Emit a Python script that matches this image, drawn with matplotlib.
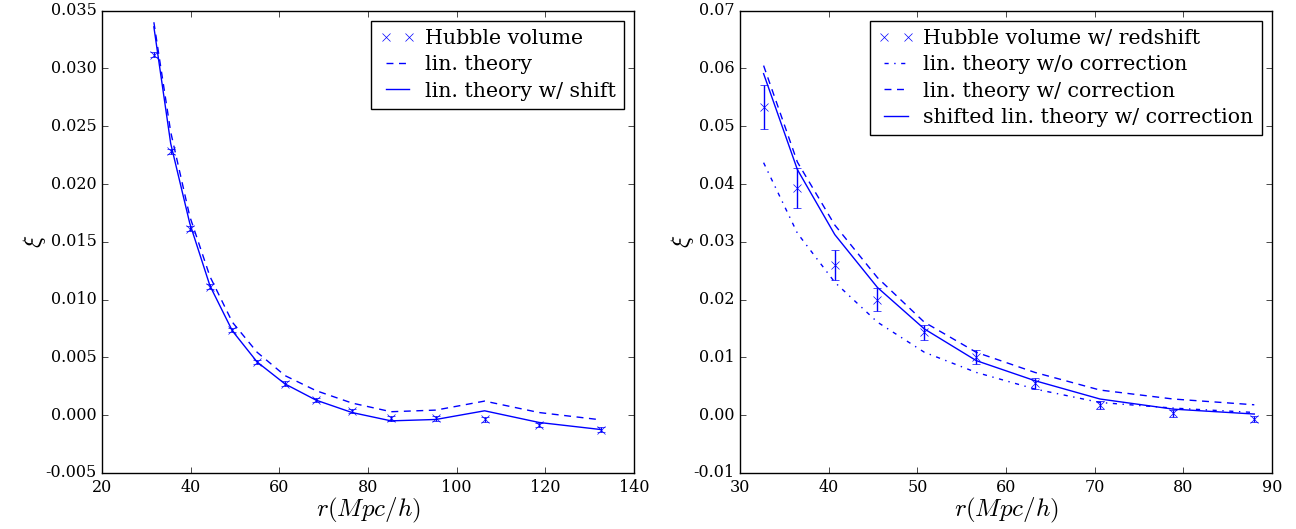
import matplotlib
matplotlib.use("Agg")
import matplotlib.pyplot as plt

# left panel: Hubble volume, real space
r_left = [31.7, 35.5, 39.8, 44.35, 49.4, 55.0, 61.3, 68.3, 76.4, 85.2, 95.3, 106.3, 118.6, 132.5]
xi_left = [0.0312, 0.02284, 0.01614, 0.01112, 0.00738, 0.00461, 0.00274, 0.0013, 0.000375,
           -0.00026, -0.00026, -0.00035, -0.00084, -0.00124]
err_left = [0.0002] * 14
lin_left = [0.0340, 0.0245, 0.0172, 0.0120, 0.00805, 0.00544, 0.00342, 0.00212, 0.00105,
            0.0003, 0.00044, 0.00122, 0.00023, -0.0004]
shift_left = [0.0336, 0.0235, 0.0166, 0.0112, 0.0073, 0.0046, 0.0027, 0.0013, 0.00023,
              -0.00049, -0.00037, 0.00038, -0.00063, -0.00124]

# right panel: with redshift distortion
r_right = [32.66, 36.47, 40.69, 45.5, 50.78, 56.65, 63.26, 70.6, 78.85, 88.0]
xi_right = [0.0534, 0.0393, 0.0260, 0.0200, 0.01434, 0.0100, 0.00549, 0.0018, 0.00035, -0.00064]
err_right = [0.0038, 0.0034, 0.0026, 0.0020, 0.0013, 0.0012, 0.0009, 0.0007, 0.0006, 0.0005]
nocorr_right = [0.0437, 0.0315, 0.0230, 0.0161, 0.0109, 0.0074, 0.00453, 0.0022, 0.00123, 0.00047]
corr_right = [0.0605, 0.0438, 0.0329, 0.0238, 0.0161, 0.01088, 0.0074, 0.00435, 0.0028, 0.0018]
shift_right = [0.0591, 0.0425, 0.03125, 0.0221, 0.01494, 0.00944, 0.00597, 0.0028, 0.00105, 0.0002]

plt.style.use("classic")
plt.rcParams["font.family"] = ["DejaVu Serif"]
plt.rcParams["mathtext.fontset"] = "cm"
plt.rcParams["axes.unicode_minus"] = False
plt.rcParams["font.size"] = 11.5

fig = plt.figure(figsize=(12.96, 5.29), dpi=100, facecolor="white")
ax1 = fig.add_axes([0.0787, 0.1059, 0.4105, 0.8739])
ax2 = fig.add_axes([0.5710, 0.1059, 0.4105, 0.8739])

c = "blue"
leg_kw = dict(loc="upper right", numpoints=2, fontsize=14.8, handlelength=1.75,
              handletextpad=0.45, labelspacing=0.35, borderaxespad=0.5)

ax1.errorbar(r_left, xi_left, yerr=err_left, fmt="none", ecolor=c, capsize=3)
ax1.plot(r_left, xi_left, "x", color=c, ms=5.5, label="Hubble volume")
ax1.plot(r_left, lin_left, "--", color=c, dashes=(5, 4), label="lin. theory")
ax1.plot(r_left, shift_left, "-", color=c, label="lin. theory w/ shift")
ax1.set_xlim(20, 140)
ax1.set_ylim(-0.005, 0.035)
ax1.set_xlabel(r"$r(Mpc/h)$", fontsize=18, labelpad=0)
ax1.set_ylabel(r"$\xi$", fontsize=18, labelpad=-2)
ax1.legend(**leg_kw)

ax2.errorbar(r_right, xi_right, yerr=err_right, fmt="none", ecolor=c, capsize=3)
ax2.plot(r_right, xi_right, "x", color=c, ms=5.5, label="Hubble volume w/ redshift")
ax2.plot(r_right, nocorr_right, "-.", color=c, dashes=(3, 4, 1, 4), label="lin. theory w/o correction")
ax2.plot(r_right, corr_right, "--", color=c, dashes=(5, 4), label="lin. theory w/ correction")
ax2.plot(r_right, shift_right, "-", color=c, label="shifted lin. theory w/ correction")
ax2.set_xlim(30, 90)
ax2.set_ylim(-0.01, 0.07)
ax2.set_xlabel(r"$r(Mpc/h)$", fontsize=18, labelpad=0)
ax2.set_ylabel(r"$\xi$", fontsize=18, labelpad=-2)
ax2.legend(**leg_kw)

fig.savefig("out.png", dpi=100)
